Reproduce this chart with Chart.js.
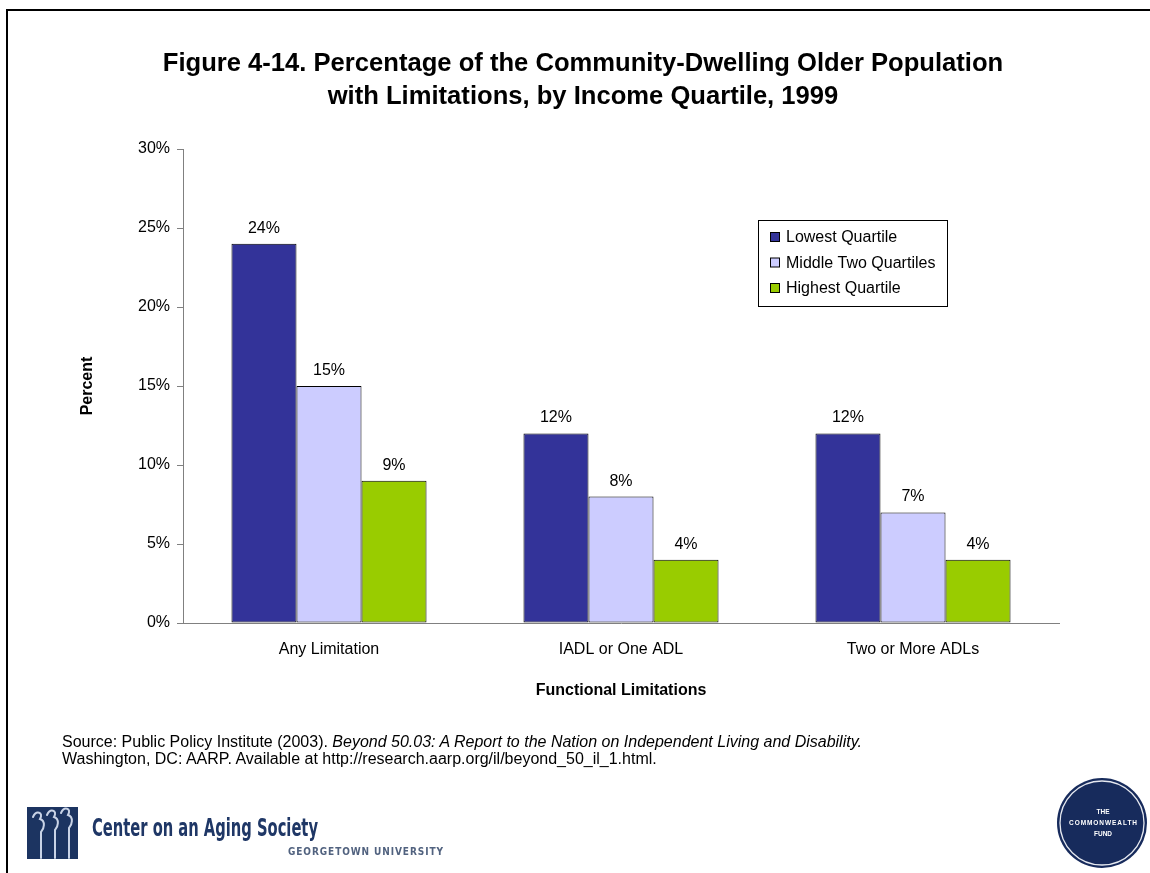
<!DOCTYPE html>
<html>
<head>
<meta charset="utf-8">
<title>Figure 4-14</title>
<script src="https://cdn.jsdelivr.net/npm/chart.js@4/dist/chart.umd.min.js"></script>
<style>
  html, body { margin: 0; padding: 0; background: #fff; }
  body { width: 1150px; height: 873px; position: relative; overflow: hidden;
         font-family: "Liberation Sans", Arial, sans-serif; color: #000; }
  #frameTop  { position: absolute; left: 6px; top: 9px; width: 1144px; height: 2px; background: #000; }
  #frameLeft { position: absolute; left: 6px; top: 9px; width: 2px; height: 864px; background: #000; }
  #chartBox { position: absolute; left: 0; top: 0; width: 1150px; height: 873px; }
  #title { position: absolute; left: 0; top: 46px; width: 1166px; text-align: center;
           font-weight: bold; font-size: 25.6px; line-height: 33px; }
  #source { position: absolute; left: 62px; top: 733px; font-size: 16px; line-height: 17px; white-space: nowrap; }
  #logos { position: absolute; left: 0; top: 0; }
</style>
</head>
<body>
<div id="frameTop"></div>
<div id="frameLeft"></div>
<div id="chartBox"><canvas id="chart" width="1150" height="873"></canvas></div>
<div id="title">Figure 4-14. Percentage of the Community-Dwelling Older Population<br>with Limitations, by Income Quartile, 1999</div>
<div id="source">Source: Public Policy Institute (2003). <i>Beyond 50.03: A Report to the Nation on Independent Living and Disability.</i><br>Washington, DC: AARP. Available at http://research.aarp.org/il/beyond_50_il_1.html.</div>

<svg id="logos" width="1150" height="873" xmlns="http://www.w3.org/2000/svg">
  <!-- Center on an Aging Society mark -->
  <rect x="27" y="807" width="51" height="52" fill="#1c3461"/>
  <g fill="none" stroke="#c9d3e6" stroke-width="2" stroke-linecap="round">
    <path d="M33 817 C36 810, 44 812, 40 819 C46 821, 44 829, 41 832 L41 858"/>
    <path d="M47 815 C50 808, 58 810, 54 817 C60 819, 58 827, 55 830 L55 858"/>
    <path d="M61 813 C64 806, 72 808, 68 815 C74 817, 72 825, 69 828 L69 858"/>
  </g>
  <text x="92" y="836" font-family="Liberation Sans Narrow, DejaVu Sans Condensed, Liberation Sans, sans-serif"
        font-weight="bold" font-size="24" fill="#1f3766" textLength="226" lengthAdjust="spacingAndGlyphs">Center on an Aging Society</text>
  <text x="288" y="855" font-family="Liberation Sans Narrow, DejaVu Sans Condensed, sans-serif" font-weight="bold" font-size="10" fill="#51627f"
        textLength="155" lengthAdjust="spacing">GEORGETOWN UNIVERSITY</text>

  <!-- Commonwealth Fund seal -->
  <circle cx="1102" cy="823" r="45" fill="#172b5c"/>
  <circle cx="1102" cy="823" r="42" fill="none" stroke="#e6e9f0" stroke-width="1.3"/>
  <g font-family="Liberation Sans, sans-serif" font-weight="bold" font-size="6.5" fill="#ffffff" text-anchor="middle">
    <text x="1103" y="814">THE</text>
    <text x="1103" y="825" textLength="68" lengthAdjust="spacing">COMMONWEALTH</text>
    <text x="1103" y="836">FUND</text>
  </g>
</svg>

<script>
// Chart data
const categories = ['Any Limitation', 'IADL or One ADL', 'Two or More ADLs'];
const seriesNames = ['Lowest Quartile', 'Middle Two Quartiles', 'Highest Quartile'];
const lowestQuartile = [24, 12, 12];
const middleTwoQuartiles = [15, 8, 7];
const highestQuartile = [9, 4, 4];
const yTickValues = [0, 5, 10, 15, 20, 25, 30];

const FONT = '"Liberation Sans", Arial, sans-serif';
const AXIS_GREY = '#808080';
const seriesColors = ['#333399', '#CCCCFF', '#99CC00'];

// Percentage labels above each bar
const valueLabels = {
  id: 'valueLabels',
  afterDatasetsDraw(chart) {
    const ctx = chart.ctx;
    ctx.save();
    ctx.font = '16px ' + FONT;
    ctx.fillStyle = '#000';
    ctx.textAlign = 'center';
    ctx.textBaseline = 'alphabetic';
    chart.data.datasets.forEach((ds, i) => {
      chart.getDatasetMeta(i).data.forEach((bar, j) => {
        ctx.fillText(ds.data[j] + '%', bar.x, bar.y - 11);
      });
    });
    ctx.restore();
  }
};

// Boxed legend inside the plot area
const boxedLegend = {
  id: 'boxedLegend',
  afterDatasetsDraw(chart, args, opts) {
    const ctx = chart.ctx;
    const { x, y, w, h, rowGap, firstRow } = opts;
    ctx.save();
    ctx.fillStyle = '#fff';
    ctx.fillRect(x, y, w, h);
    ctx.strokeStyle = '#000';
    ctx.lineWidth = 1;
    ctx.strokeRect(x + 0.5, y + 0.5, w, h);
    ctx.font = '16px ' + FONT;
    ctx.textBaseline = 'middle';
    ctx.textAlign = 'left';
    chart.data.datasets.forEach((ds, i) => {
      const cy = y + firstRow + i * rowGap;
      ctx.fillStyle = ds.backgroundColor;
      ctx.fillRect(x + 12.5, cy - 4.5, 9, 9);
      ctx.strokeStyle = '#000';
      ctx.strokeRect(x + 12.5, cy - 4.5, 9, 9);
      ctx.fillStyle = '#000';
      ctx.fillText(ds.label, x + 28, cy + 1);
    });
    ctx.restore();
  }
};

const seriesValues = [lowestQuartile, middleTwoQuartiles, highestQuartile];

new Chart(document.getElementById('chart'), {
  type: 'bar',
  data: {
    labels: categories,
    datasets: seriesNames.map((name, i) => ({
      label: name,
      data: seriesValues[i],
      backgroundColor: seriesColors[i],
      borderColor: '#000',
      borderWidth: 1,
      borderSkipped: false,
      categoryPercentage: 0.668,
      barPercentage: 1.0
    }))
  },
  options: {
    responsive: false,
    animation: false,
    devicePixelRatio: 1,
    layout: { padding: { left: 78, top: 149, right: 91, bottom: 173 } },
    plugins: {
      legend: { display: false },
      tooltip: { enabled: false },
      title: { display: false },
      boxedLegend: { x: 758, y: 220, w: 189, h: 86, firstRow: 17, rowGap: 25.5 }
    },
    scales: {
      x: {
        grid: { display: false, drawTicks: false, tickLength: 0 },
        border: { display: true, color: AXIS_GREY, width: 1 },
        ticks: { color: '#000', font: { family: FONT, size: 16 }, padding: 17, maxRotation: 0, autoSkip: false },
        title: { display: true, text: 'Functional Limitations', color: '#000',
                 font: { family: FONT, size: 16, weight: 'bold' }, padding: 0 },
        afterFit: s => { s.height = 77; }
      },
      y: {
        min: 0,
        max: 30,
        grid: { drawOnChartArea: false, drawTicks: true, tickLength: 6, color: AXIS_GREY },
        border: { display: true, color: AXIS_GREY, width: 1 },
        ticks: { color: '#000', font: { family: FONT, size: 16 }, padding: 7,
                 callback: v => v + '%' },
        afterBuildTicks: s => { s.ticks = yTickValues.map(v => ({ value: v })); },
        title: { display: true, text: 'Percent', color: '#000',
                 font: { family: FONT, size: 16, weight: 'bold' }, padding: 0 },
        afterFit: s => { s.width = 105; }
      }
    }
  },
  plugins: [valueLabels, boxedLegend]
});
</script>
</body>
</html>
